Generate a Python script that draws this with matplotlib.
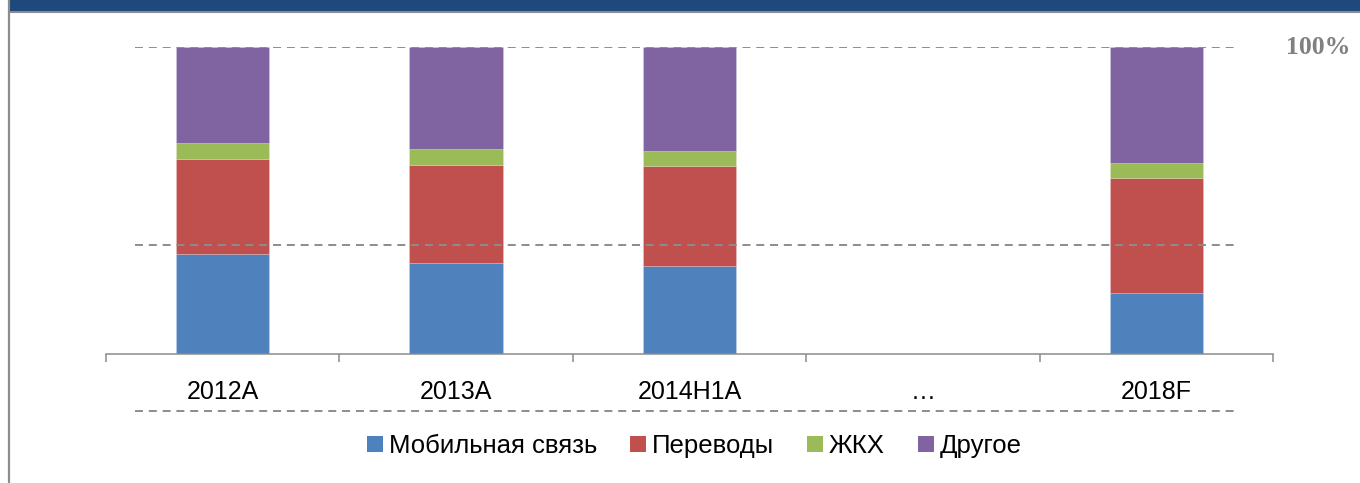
"""
Структура платежей: stacked 100% bars
Output: out.png
"""

import matplotlib.pyplot as plt
from matplotlib.patches import Patch, Rectangle
from matplotlib.lines import Line2D
import numpy as np

# ==================== DATA ====================
categories = ["2012A", "2013A", "2014H1A", "…", "2018F"]
series_names = ["Мобильная связь", "Переводы", "ЖКХ", "Другое"]
mobile = [32.6, 29.5, 28.7, 0, 19.9]
transfers = [31.0, 32.2, 32.6, 0, 37.5]
housing = [5.0, 5.0, 4.8, 0, 4.9]
other = [31.4, 33.3, 33.9, 0, 37.7]
ref_levels = [100, 35.5]

colors = ["#4F81BD", "#C0504D", "#9BBB59", "#8064A2"]
grey = "#8C8C8C"
dash = (0, (4.1, 3.0))

# ==================== FIGURE ====================
W, H = 1360, 483
fig = plt.figure(figsize=(W / 100, H / 100), dpi=100)
fig.patch.set_facecolor("white")

# header band + frame
fig.add_artist(Rectangle((10 / W, 1 - 11 / H), 1, 11 / H, transform=fig.transFigure,
                         facecolor="#1F497D", edgecolor="none"))
fig.add_artist(Line2D([9 / W, 1], [1 - 11.5 / H] * 2, transform=fig.transFigure,
                      color=grey, lw=1.5))
fig.add_artist(Line2D([8.5 / W] * 2, [0, 1], transform=fig.transFigure,
                      color=grey, lw=1.6))

x0, x1 = 106, 1273
y_base, y_top = 354, 47
ax = fig.add_axes([x0 / W, (H - y_base) / H, (x1 - x0) / W, (y_base - y_top) / H])

x = np.arange(len(categories))
bottom = np.zeros(len(categories))
for vals, c in zip([mobile, transfers, housing, other], colors):
    ax.bar(x, vals, width=0.4, bottom=bottom, color=c,
           edgecolor=(1, 1, 1, 0.2), linewidth=0.6, zorder=2)
    bottom += np.array(vals)

ax.set_xlim(-0.5, len(categories) - 0.5)
ax.set_ylim(0, 100)

# dashed reference lines
xa, xb = (135 - x0) / (x1 - x0), (1235 - x0) / (x1 - x0)
for lvl in ref_levels:
    ax.axhline(lvl, xmin=xa, xmax=xb, color=grey, lw=1.4, ls=dash, zorder=3)
ax.plot([xa, xb], [-(411 - y_base) / (y_base - y_top)] * 2, transform=ax.transAxes,
        clip_on=False, color=grey, lw=1.4, ls=dash)

ax.text(1286, H - 53.5, "100%", transform=None, fontsize=18.5, fontweight="bold",
        family=["Liberation Serif", "DejaVu Serif"], color="#808080", ha="left", va="baseline")

# axes styling
for s in ["top", "right", "left"]:
    ax.spines[s].set_visible(False)
ax.spines["bottom"].set_color(grey)
ax.spines["bottom"].set_linewidth(1.1)
ax.set_yticks([])
ax.set_xticks(x)
ax.set_xticklabels(categories, fontsize=18, family=["Liberation Sans", "DejaVu Sans"])
ax.tick_params(axis="x", which="major", length=0, pad=18.5)
ax.set_xticks(np.arange(-0.5, len(categories)), minor=True)
ax.tick_params(axis="x", which="minor", length=5.8, width=1.1, color=grey)

# legend
handles = [Patch(facecolor=c, edgecolor="none") for c in colors]
fig.legend(handles, series_names, loc="center", bbox_to_anchor=(694.5 / W, (H - 446) / H),
           ncol=4, frameon=False, handlelength=0.6, handleheight=0.6, handletextpad=0.24,
           columnspacing=1.3, borderpad=0, borderaxespad=0,
           prop={"family": ["Liberation Sans", "DejaVu Sans"], "size": 18.5})

plt.savefig("out.png", dpi=100, facecolor="white")
print("Generated: out.png")
